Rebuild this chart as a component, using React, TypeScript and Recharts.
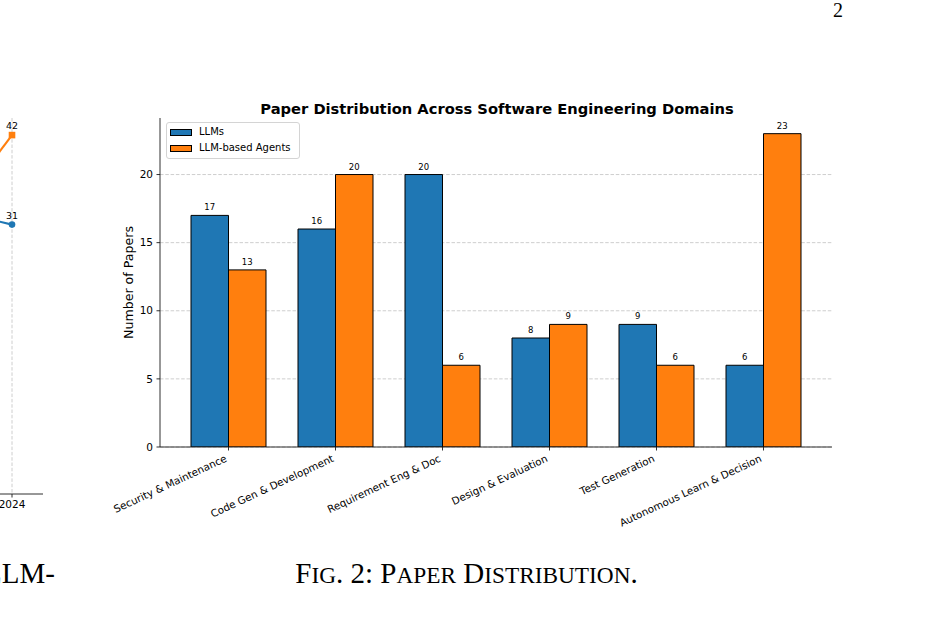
import React from "react";
import { BarChart, Bar, XAxis, YAxis, CartesianGrid, LabelList, LineChart, Line } from "recharts";

// Paper counts per software engineering domain
const domains = [
  "Security & Maintenance",
  "Code Gen & Development",
  "Requirement Eng & Doc",
  "Design & Evaluation",
  "Test Generation",
  "Autonomous Learn & Decision",
];
const llmPapers = [17, 16, 20, 8, 9, 6];
const agentPapers = [13, 20, 6, 9, 6, 23];
const paperTicks = [0, 5, 10, 15, 20];

// Yearly trend (neighbouring figure, only its right edge is on the page)
const years = [2023, 2024];
const llmByYear = [34, 31];
const agentsByYear = [25, 42];
const yearTicks = [2022, 2023, 2024];
const countTicks = [0, 10, 20, 30, 40];

const BLUE = "#1f77b4";
const ORANGE = "#ff7f0e";
const SANS = "'DejaVu Sans', Verdana, sans-serif";
const SERIF = "'Liberation Serif', 'Times New Roman', serif";
const GRID = "#c8c8c8";
const AXIS = "#1a1a1a";

const seriesList = [
  { key: "llm", name: "LLMs", color: BLUE },
  { key: "agents", name: "LLM-based Agents", color: ORANGE },
];

const barData = domains.map((d, i) => ({ domain: d, llm: llmPapers[i], agents: agentPapers[i] }));
const trendData = years.map((y, i) => ({ year: y, llm: llmByYear[i], agents: agentsByYear[i] }));

const RotatedTick = (props: any) => {
  const { x, y, payload } = props;
  return (
    <g transform={`translate(${x - 1},${y + 7}) rotate(-25)`}>
      <text x={0} y={0} textAnchor="end" fontFamily={SANS} fontSize={10.3} fill="#000">
        {payload.value}
      </text>
    </g>
  );
};

const SquareDot = (props: any) => {
  const { cx, cy } = props;
  if (cx == null || cy == null) return null;
  const s = 6.6;
  return <rect x={cx - s / 2} y={cy - s / 2} width={s} height={s} fill={ORANGE} />;
};

const Legend = () => (
  <div
    style={{
      position: "absolute",
      left: 166,
      top: 122,
      width: 134,
      height: 37,
      boxSizing: "border-box",
      border: "1px solid #d4d4d4",
      borderRadius: 3,
      background: "rgba(255,255,255,0.8)",
      fontFamily: SANS,
      fontSize: 10,
      color: "#000",
    }}
  >
    {seriesList.map((s, i) => (
      <div
        key={s.key}
        style={{ position: "absolute", left: 3, top: 3 + i * 16.3, height: 12, display: "flex", alignItems: "center" }}
      >
        <div
          style={{ width: 22, height: 7, background: s.color, border: "1px solid #000", boxSizing: "border-box" }}
        />
        <span style={{ marginLeft: 7, whiteSpace: "nowrap", lineHeight: "12px" }}>{s.name}</span>
      </div>
    ))}
  </div>
);

export default function App() {
  return (
    <div
      style={{
        position: "absolute",
        left: 0,
        top: 0,
        width: 935,
        height: 633,
        overflow: "hidden",
        background: "#fff",
      }}
    >
      {/* Trend chart of the previous figure */}
      <div style={{ position: "absolute", left: -260, top: 80 }}>
        <LineChart width={320} height={470} data={trendData} margin={{ top: 38, right: 17, bottom: 26, left: 43 }}>
          <CartesianGrid stroke={GRID} strokeDasharray="3.5 1.8" strokeWidth={0.9} syncWithTicks />
          <XAxis
            dataKey="year"
            type="number"
            domain={[2021.798, 2024.298]}
            ticks={yearTicks}
            allowDataOverflow
            height={30}
            tickSize={3.5}
            tickMargin={3}
            axisLine={{ stroke: AXIS, strokeWidth: 0.9 }}
            tickLine={{ stroke: AXIS, strokeWidth: 0.9 }}
            tick={{ fontFamily: SANS, fontSize: 10.5, fill: "#000" }}
          />
          <YAxis
            width={0}
            domain={[-2.1, 44.1]}
            ticks={countTicks}
            allowDataOverflow
            axisLine={false}
            tickLine={false}
            tick={false}
          />
          <Line
            dataKey="llm"
            type="linear"
            stroke={BLUE}
            strokeWidth={2.1}
            dot={{ r: 3.3, fill: BLUE, stroke: BLUE, strokeWidth: 0 }}
            isAnimationActive={false}
          >
            <LabelList dataKey="llm" position="top" offset={6} fontFamily={SANS} fontSize={9.5} fill="#000" />
          </Line>
          <Line
            dataKey="agents"
            type="linear"
            stroke={ORANGE}
            strokeWidth={2.1}
            dot={<SquareDot />}
            isAnimationActive={false}
          >
            <LabelList dataKey="agents" position="top" offset={6} fontFamily={SANS} fontSize={9.5} fill="#000" />
          </Line>
        </LineChart>
      </div>

      {/* Paper distribution bar chart */}
      <div style={{ position: "absolute", left: 60, top: 80 }}>
        <BarChart
          width={800}
          height={460}
          data={barData}
          margin={{ top: 38, right: 28, bottom: 33, left: 60 }}
          barGap={0}
          barSize={37.5}
        >
          <CartesianGrid vertical={false} stroke={GRID} strokeDasharray="3.5 1.8" strokeWidth={0.9} syncWithTicks />
          <XAxis
            dataKey="domain"
            interval={0}
            height={60}
            padding={{ left: 15, right: 15 }}
            tickSize={3.5}
            tickMargin={3.5}
            axisLine={{ stroke: AXIS, strokeWidth: 0.9 }}
            tickLine={{ stroke: AXIS, strokeWidth: 0.9 }}
            tick={<RotatedTick />}
          />
          <YAxis
            width={40}
            domain={[0, 24.15]}
            ticks={paperTicks}
            allowDataOverflow
            tickSize={3.5}
            tickMargin={3.5}
            axisLine={{ stroke: AXIS, strokeWidth: 0.9 }}
            tickLine={{ stroke: AXIS, strokeWidth: 0.9 }}
            tick={{ fontFamily: SANS, fontSize: 10.5, fill: "#000" }}
          />
          {seriesList.map((s) => (
            <Bar key={s.key} dataKey={s.key} name={s.name} fill={s.color} stroke="#000" strokeWidth={1} isAnimationActive={false}>
              <LabelList dataKey={s.key} position="top" offset={5} fontFamily={SANS} fontSize={8.5} fill="#000" />
            </Bar>
          ))}
        </BarChart>
      </div>

      <Legend />

      {/* Titles, axis label and page text */}
      <svg width={935} height={633} style={{ position: "absolute", left: 0, top: 0, pointerEvents: "none" }}>
        <text x={497} y={113.5} textAnchor="middle" fontFamily={SANS} fontSize={14.7} fontWeight="bold" fill="#000">
          Paper Distribution Across Software Engineering Domains
        </text>
        <text
          transform="translate(132.6,282.5) rotate(-90)"
          textAnchor="middle"
          fontFamily={SANS}
          fontSize={12.6}
          fill="#000"
        >
          Number of Papers
        </text>
        <text x={833} y={17} fontFamily={SERIF} fontSize={20} fill="#000">
          2
        </text>
        <text x={-16} y={583} fontFamily={SERIF} fontSize={29} fill="#000">
          LLM-
        </text>
        <text x={466.5} y={583} textAnchor="middle" fontFamily={SERIF} fontSize={29} fill="#000">
          F<tspan fontSize={23.3}>IG</tspan>. 2: P<tspan fontSize={23.3}>APER</tspan> D
          <tspan fontSize={23.3}>ISTRIBUTION</tspan>.
        </text>
      </svg>
    </div>
  );
}
